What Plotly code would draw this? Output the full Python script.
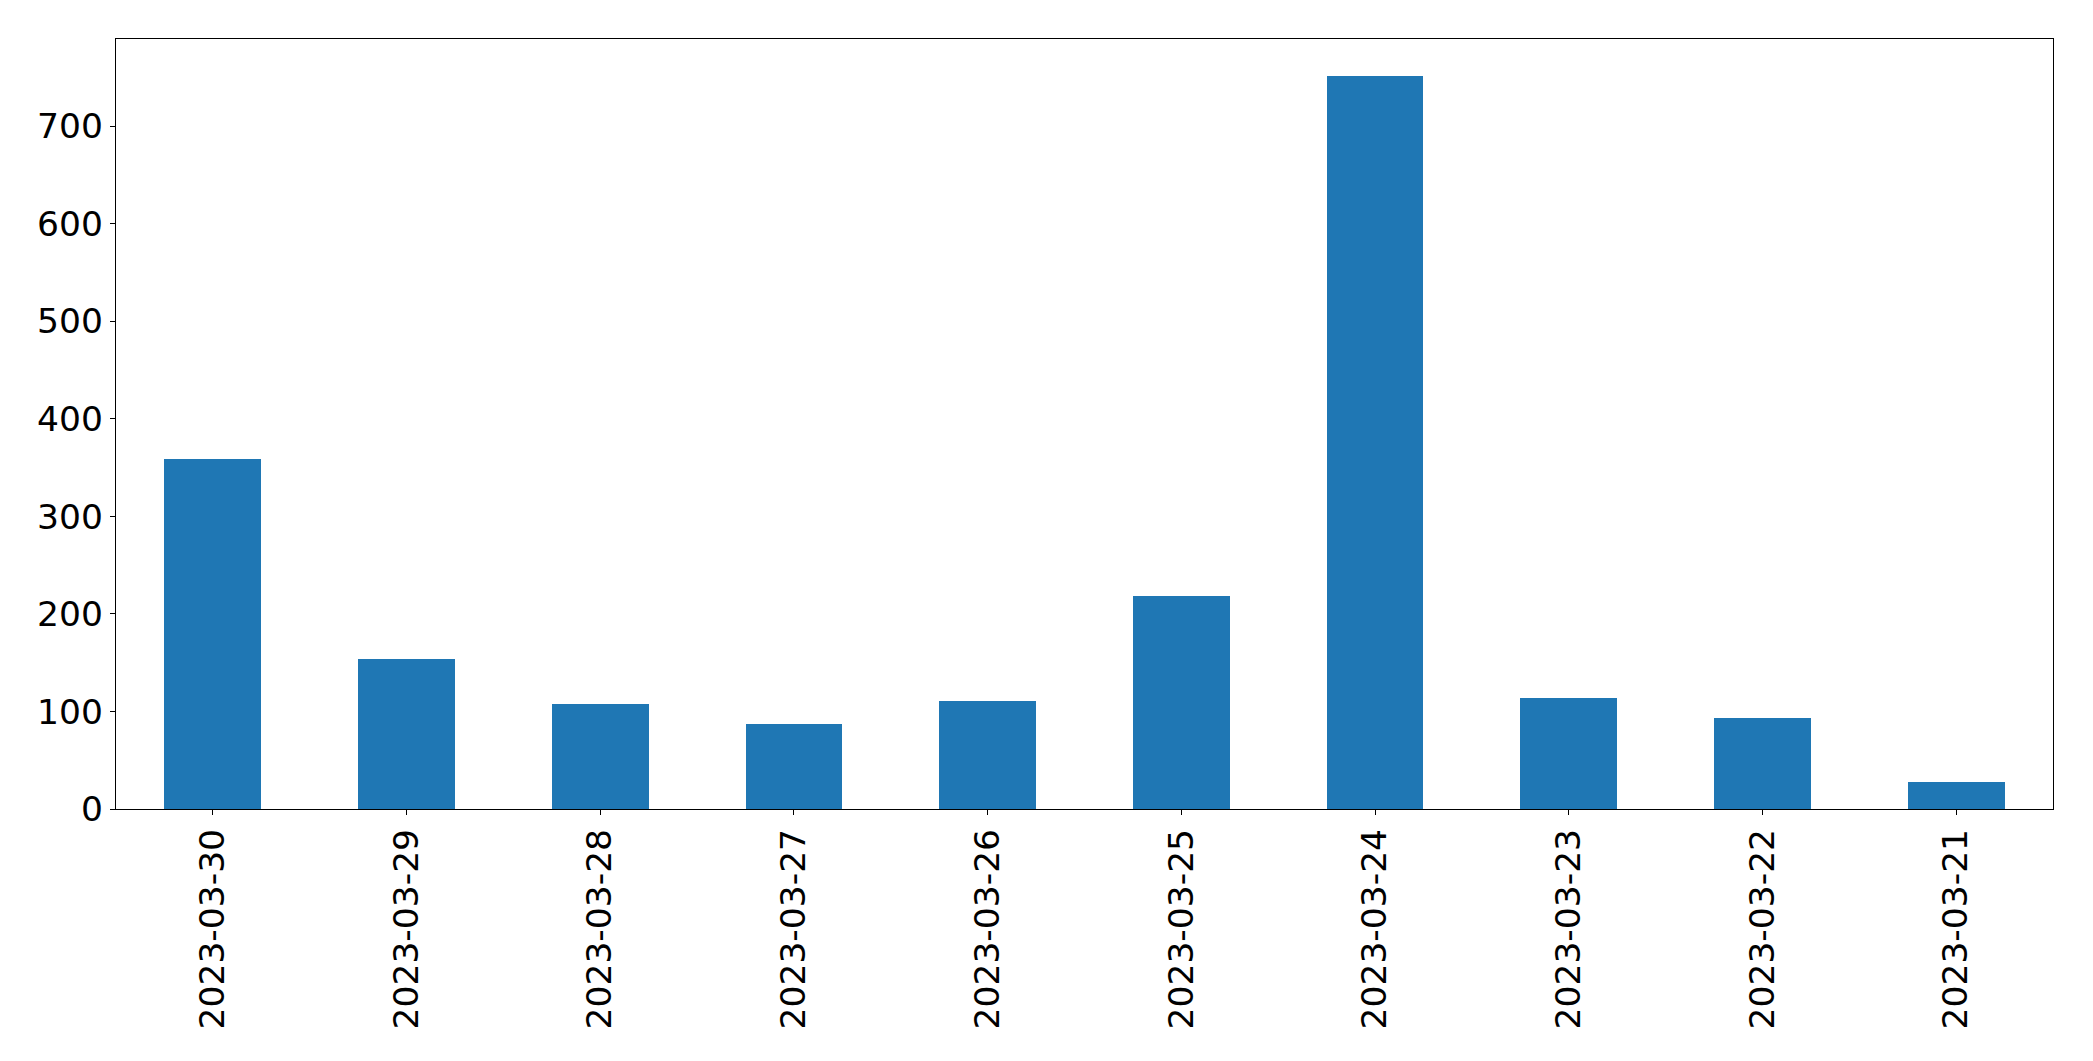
import plotly.graph_objects as go

dates = ["2023-03-30", "2023-03-29", "2023-03-28", "2023-03-27", "2023-03-26",
         "2023-03-25", "2023-03-24", "2023-03-23", "2023-03-22", "2023-03-21"]
counts = [359, 154, 108, 87, 111, 218, 752, 114, 93, 28]
y_ticks = [0, 100, 200, 300, 400, 500, 600, 700]

fig = go.Figure(go.Bar(x=dates, y=counts, width=0.5, marker=dict(color="#1f77b4", line=dict(width=0))))

axis_common = dict(
    showline=True, linecolor="black", linewidth=1.3, mirror=True,
    ticks="outside", ticklen=5, tickwidth=1.3, tickcolor="black",
    showgrid=False, zeroline=False,
    tickfont=dict(family="DejaVu Sans", size=34.5, color="black"),
)

fig.update_layout(
    width=2093, height=1061,
    margin=dict(l=116, r=40, t=39, b=252, pad=0),
    paper_bgcolor="white", plot_bgcolor="white",
    showlegend=False,
    bargap=0,
    xaxis=dict(type="category", range=[-0.5, 9.5], tickangle=-90, **axis_common),
    yaxis=dict(range=[0, 789.6], tickvals=y_ticks, **axis_common),
)

fig.write_html("out.html")
